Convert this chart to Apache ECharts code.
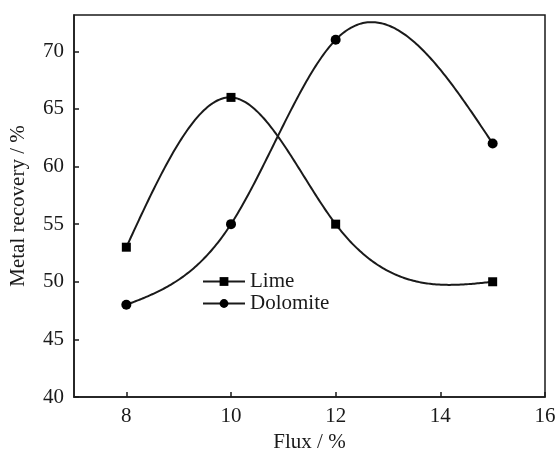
<!DOCTYPE html>
<html>
<head>
<meta charset="utf-8">
<script src="https://cdn.jsdelivr.net/npm/echarts@6/dist/echarts.min.js"></script>
<style>
  html, body { margin: 0; padding: 0; background: #fff; }
  #chart { width: 557px; height: 450px; }
</style>
</head>
<body>
<div id="chart"></div>
<script>
// Flux addition (%) and the metal recovery obtained with each flux
const fluxPct = [8, 10, 12, 15];
const limeRecovery = [53, 66, 55, 50];
const dolomiteRecovery = [48, 55, 71, 62];
const xTicks = [8, 10, 12, 14, 16];
const yTicks = [40, 45, 50, 55, 60, 65, 70];

const serif = 'Liberation Serif';
const ink = '#1a1a1a';
const fs = 21;

// Natural cubic spline through (xs, ys); returns a function S(x).
function naturalSpline(xs, ys) {
  const n = xs.length - 1;
  const h = [];
  for (let i = 0; i < n; i++) h.push(xs[i + 1] - xs[i]);
  // Tridiagonal system for second derivatives M[1..n-1], with M[0] = M[n] = 0
  const a = [], b = [], c = [], d = [];
  for (let i = 1; i < n; i++) {
    a.push(h[i - 1]);
    b.push(2 * (h[i - 1] + h[i]));
    c.push(h[i]);
    d.push(6 * ((ys[i + 1] - ys[i]) / h[i] - (ys[i] - ys[i - 1]) / h[i - 1]));
  }
  const m = b.length;
  for (let i = 1; i < m; i++) {
    const w = a[i] / b[i - 1];
    b[i] -= w * c[i - 1];
    d[i] -= w * d[i - 1];
  }
  const inner = new Array(m);
  for (let i = m - 1; i >= 0; i--) {
    inner[i] = (d[i] - (i < m - 1 ? c[i] * inner[i + 1] : 0)) / b[i];
  }
  const M = [0, ...inner, 0];
  return function (x) {
    let i = 0;
    while (i < n - 1 && x > xs[i + 1]) i++;
    const hi = h[i];
    const t0 = xs[i + 1] - x, t1 = x - xs[i];
    return M[i] * t0 * t0 * t0 / (6 * hi) + M[i + 1] * t1 * t1 * t1 / (6 * hi)
      + (ys[i] / hi - M[i] * hi / 6) * t0 + (ys[i + 1] / hi - M[i + 1] * hi / 6) * t1;
  };
}

// Custom series that draws the smooth curve through a series' points
function curveSeries(id, ys) {
  const S = naturalSpline(fluxPct, ys);
  return {
    id: id, name: id, type: 'custom', z: 2, silent: true,
    data: fluxPct.map((x, i) => [x, ys[i]]),
    renderItem: function (params, api) {
      if (params.dataIndex !== 0) return null;
      const pts = [];
      const x0 = fluxPct[0], x1 = fluxPct[fluxPct.length - 1];
      const steps = 240;
      for (let k = 0; k <= steps; k++) {
        const x = x0 + (x1 - x0) * k / steps;
        pts.push(api.coord([x, S(x)]));
      }
      return {
        type: 'polyline',
        shape: { points: pts },
        style: { stroke: ink, lineWidth: 2, fill: null }
      };
    }
  };
}

const chart = echarts.init(document.getElementById('chart'));
chart.setOption({
  animation: false,
  backgroundColor: '#fff',
  grid: {
    left: 74, right: 12, top: 15, bottom: 53,
    outerBoundsMode: 'none', containLabel: false,
    show: true, borderColor: ink, borderWidth: 1.5
  },
  legend: {
    orient: 'vertical',
    left: 197, top: 266,
    itemWidth: 42, itemHeight: 11, itemGap: 1,
    lineStyle: { color: ink, width: 2, opacity: 1 },
    textStyle: { fontFamily: serif, fontSize: fs, color: ink },
    data: ['Lime', 'Dolomite']
  },
  xAxis: {
    type: 'value', min: 7, max: 16,
    name: 'Flux / %', nameLocation: 'middle', nameGap: 33,
    nameTextStyle: { fontFamily: serif, fontSize: fs, color: ink },
    axisLine: { lineStyle: { color: ink, width: 1.5 } },
    axisTick: { inside: true, length: 5, customValues: xTicks, lineStyle: { color: ink, width: 1.5 } },
    axisLabel: { customValues: xTicks, fontFamily: serif, fontSize: fs, color: ink, margin: 9 },
    splitLine: { show: false }
  },
  yAxis: {
    type: 'value', min: 40, max: 73.15,
    name: 'Metal recovery / %', nameLocation: 'middle', nameGap: 45,
    nameTextStyle: { fontFamily: serif, fontSize: fs, color: ink },
    axisLine: { show: true, lineStyle: { color: ink, width: 1.5 } },
    axisTick: { show: true, inside: true, length: 5, customValues: yTicks, lineStyle: { color: ink, width: 1.5 } },
    axisLabel: { customValues: yTicks, fontFamily: serif, fontSize: fs, color: ink, margin: 10 },
    splitLine: { show: false }
  },
  series: [
    curveSeries('lime-curve', limeRecovery),
    curveSeries('dolomite-curve', dolomiteRecovery),
    {
      name: 'Lime', type: 'line', z: 3,
      data: fluxPct.map((x, i) => [x, limeRecovery[i]]),
      symbol: 'rect', symbolSize: 9,
      lineStyle: { color: ink, width: 2, opacity: 0 },
      itemStyle: { color: '#000' }
    },
    {
      name: 'Dolomite', type: 'line', z: 3,
      data: fluxPct.map((x, i) => [x, dolomiteRecovery[i]]),
      symbol: 'circle', symbolSize: 10,
      lineStyle: { color: ink, width: 2, opacity: 0 },
      itemStyle: { color: '#000' }
    }
  ]
});
</script>
</body>
</html>
